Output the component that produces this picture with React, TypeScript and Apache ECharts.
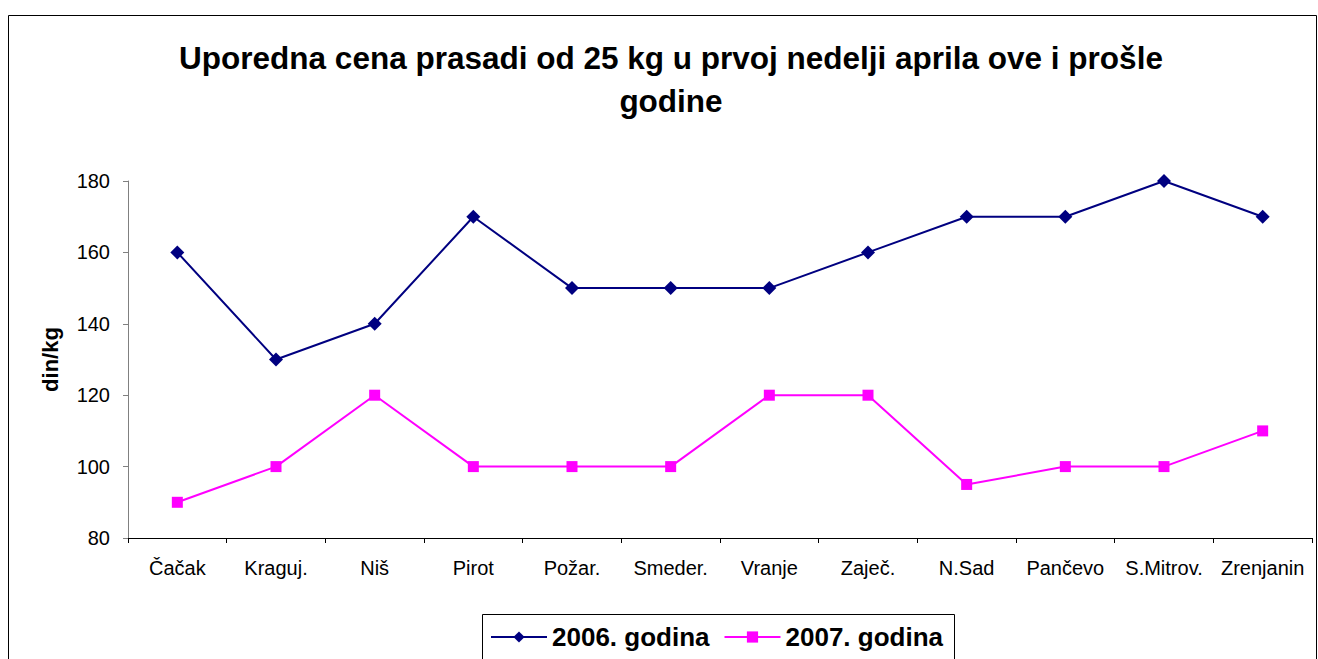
import React, { useEffect, useRef } from "react";
import * as echarts from "echarts";

const categories = ["Čačak", "Kraguj.", "Niš", "Pirot", "Požar.", "Smeder.", "Vranje", "Zaječ.", "N.Sad", "Pančevo", "S.Mitrov.", "Zrenjanin"];
const series2006 = [160, 130, 140, 170, 150, 150, 150, 160, 170, 170, 180, 170];
const series2007 = [90, 100, 120, 100, 100, 100, 120, 120, 95, 100, 100, 110];
const seriesNames = ["2006. godina", "2007. godina"];
const titleText = "Uporedna cena prasadi od 25 kg u prvoj nedelji aprila ove i prošle\ngodine";
const yName = "din/kg";

export default function App() {
  const ref = useRef<HTMLDivElement>(null);
  useEffect(() => {
    const chart = echarts.init(ref.current!, null, { renderer: "svg" });
    const font = "Liberation Sans, Arial, sans-serif";
    chart.setOption({
      animation: false,
      backgroundColor: "#ffffff",
      textStyle: { fontFamily: font },
      title: {
        text: titleText,
        left: 671,
        textAlign: "center",
        top: 36.5,
        padding: 0,
        textStyle: { fontSize: 31.5, fontWeight: "bold", color: "#000", lineHeight: 43, fontFamily: font },
      },
      graphic: [
        { type: "rect", shape: { x: 8.5, y: 15.5, width: 1308, height: 700 }, style: { fill: "none", stroke: "#000", lineWidth: 1 }, silent: true },
        { type: "rect", shape: { x: 482.5, y: 614.5, width: 472, height: 100 }, style: { fill: "none", stroke: "#000", lineWidth: 1 }, silent: true },
      ],
      grid: { left: 128, right: 6, top: 181, bottom: 121 },
      legend: {
        data: seriesNames,
        left: 490,
        top: 624,
        itemWidth: 56,
        itemHeight: 14,
        itemGap: 14,
        padding: 0,
        textStyle: { fontSize: 26, fontWeight: "bold", color: "#000", fontFamily: font },
      },
      xAxis: {
        type: "category",
        data: categories,
        boundaryGap: true,
        axisLine: { lineStyle: { color: "#000", width: 1 } },
        axisTick: { show: true, length: 5, inside: false, lineStyle: { color: "#000" } },
        axisLabel: { fontSize: 20, color: "#000", margin: 20, fontFamily: font, interval: 0 },
        splitLine: { show: false },
      },
      yAxis: {
        type: "value",
        min: 80,
        max: 180,
        interval: 20,
        name: yName,
        nameLocation: "middle",
        nameGap: 67,
        nameRotate: 90,
        nameTextStyle: { fontSize: 22, fontWeight: "bold", color: "#000", fontFamily: font },
        axisLine: { show: true, lineStyle: { color: "#808080", width: 1 } },
        axisTick: { show: true, length: 5, lineStyle: { color: "#808080" } },
        axisLabel: { fontSize: 20, color: "#000", margin: 18, fontFamily: font },
        splitLine: { show: false },
      },
      series: [
        {
          name: seriesNames[0],
          type: "line",
          data: series2006,
          symbol: "diamond",
          symbolSize: 14,
          color: "#000080",
          lineStyle: { color: "#000080", width: 2 },
          itemStyle: { color: "#000080" },
        },
        {
          name: seriesNames[1],
          type: "line",
          data: series2007,
          symbol: "rect",
          symbolSize: 11,
          color: "#FF00FF",
          lineStyle: { color: "#FF00FF", width: 2 },
          itemStyle: { color: "#FF00FF" },
        },
      ],
    });
    return () => chart.dispose();
  }, []);
  return <div ref={ref} style={{ position: "absolute", left: 0, top: 0, width: 1318, height: 659 }} />;
}
